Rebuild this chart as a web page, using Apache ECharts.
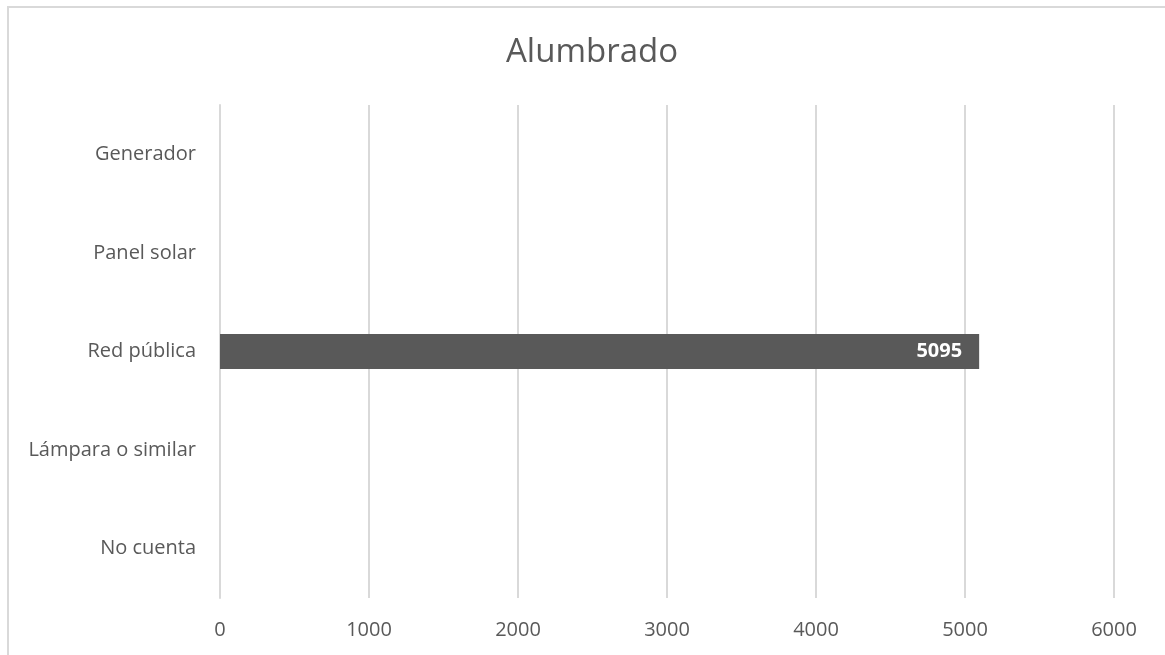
<!DOCTYPE html>
<html>
<head>
<meta charset="utf-8">
<script src="https://cdn.jsdelivr.net/npm/echarts@6/dist/echarts.min.js"></script>
<style>
html,body{margin:0;padding:0;background:#fff;}
#frame{position:absolute;left:7px;top:6px;width:1200px;height:700px;border-top:2px solid #d9d9d9;border-left:2px solid #d9d9d9;}
#chart{position:absolute;left:0;top:0;width:1165px;height:655px;}
</style>
</head>
<body>
<div id="frame"></div>
<div id="chart"></div>
<script>
const titleText = 'Alumbrado';
const categories = ['No cuenta', 'Lámpara o similar', 'Red pública', 'Panel solar', 'Generador'];
const values = [null, null, 5095, null, null];
const xTicks = [0, 1000, 2000, 3000, 4000, 5000, 6000];

const chart = echarts.init(document.getElementById('chart'), null, {renderer: 'canvas'});
chart.setOption({
  backgroundColor: 'transparent',
  animation: false,
  title: {
    text: titleText, left: 587, top: 31, textAlign: 'center',
    textStyle: {fontFamily: 'Open Sans', fontSize: 33, fontWeight: 'normal', color: '#595959'}
  },
  grid: {left: 220, right: 51, top: 105, bottom: 57},
  xAxis: {
    type: 'value', min: xTicks[0], max: xTicks[xTicks.length - 1], interval: 1000,
    axisLine: {show: false}, axisTick: {show: false},
    axisLabel: {fontFamily: 'Open Sans', fontSize: 20, color: '#595959', margin: 22,
      formatter: v => String(v)},
    splitLine: {lineStyle: {color: '#d9d9d9', width: 2}}
  },
  yAxis: {
    type: 'category', data: categories,
    axisLine: {show: true, lineStyle: {color: '#d9d9d9', width: 2}}, axisTick: {show: false},
    axisLabel: {fontFamily: 'Open Sans', fontSize: 20, color: '#595959', margin: 24},
    splitLine: {show: false}
  },
  series: [{
    type: 'bar', data: values, barWidth: 35,
    itemStyle: {color: '#595959'},
    label: {
      show: true, position: 'insideRight', distance: 17,
      fontFamily: 'Open Sans', fontSize: 20, fontWeight: 'bold', color: '#ffffff'
    }
  }]
});
</script>
</body>
</html>
